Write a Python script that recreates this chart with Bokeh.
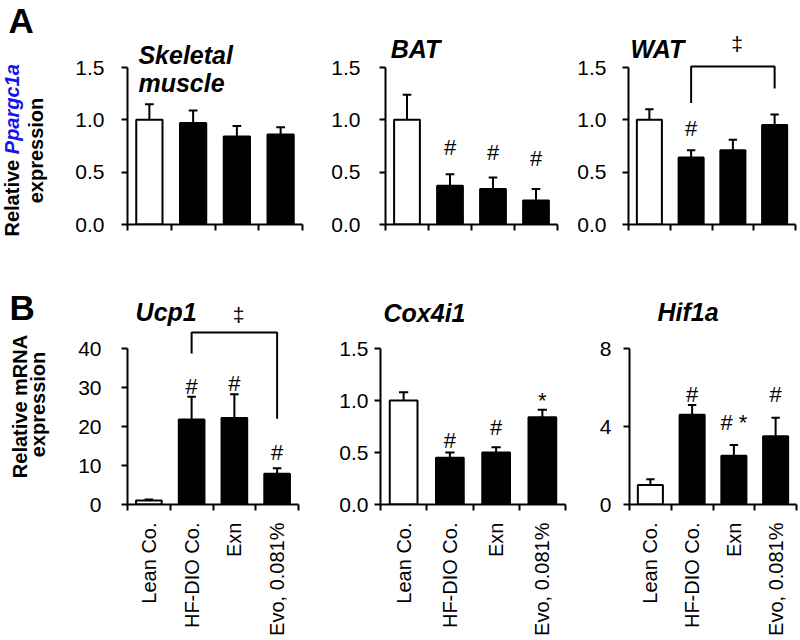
import math
from bokeh.plotting import figure
from bokeh.layouts import row, column
from bokeh.models import Range1d, FixedTicker, PrintfTickFormatter, ColumnDataSource
from bokeh.core.properties import value
from bokeh.embed import file_html
from bokeh.resources import INLINE

# ---------------- data ----------------
groups = ["Lean Co.", "HF-DIO Co.", "Exn", "Evo, 0.081%"]
bar_fill = ["white", "black", "black", "black"]

skeletal_mean = [1.00, 0.97, 0.84, 0.86]
skeletal_err = [0.15, 0.12, 0.10, 0.07]
bat_mean = [1.00, 0.37, 0.34, 0.23]
bat_err = [0.24, 0.11, 0.11, 0.11]
wat_mean = [1.00, 0.64, 0.71, 0.95]
wat_err = [0.10, 0.07, 0.10, 0.10]
ucp1_mean = [1.0, 21.8, 22.2, 7.9]
ucp1_err = [0.3, 5.8, 6.1, 1.4]
cox_mean = [1.00, 0.45, 0.50, 0.84]
cox_err = [0.08, 0.05, 0.05, 0.07]
hif_mean = [1.0, 4.6, 2.5, 3.5]
hif_err = [0.3, 0.5, 0.55, 0.95]

# significance marks: group index, symbol, y position
bat_marks_idx = [1, 2, 3]
bat_marks_txt = ["#", "#", "#"]
bat_marks_y = [0.74, 0.69, 0.63]
wat_marks_idx = [1]
wat_marks_txt = ["#"]
wat_marks_y = [0.92]
ucp1_marks_idx = [1, 2, 3]
ucp1_marks_txt = ["#", "#", "#"]
ucp1_marks_y = [30.3, 31.0, 13.4]
cox_marks_idx = [1, 2, 3]
cox_marks_txt = ["#", "#", "*"]
cox_marks_y = [0.615, 0.743, 1.0]
hif_marks_idx = [1, 2, 3]
hif_marks_txt = ["#", "# *", "#"]
hif_marks_y = [5.64, 4.22, 5.64]

# brackets: left group, right group, top, left leg end, right leg end, symbol x, symbol y
wat_bracket = (1, 3, 1.51, 1.16, 1.30, 2.6, 1.73)
ucp1_bracket = (1, 3, 44.1, 38.7, 22.0, 2.6, 48.7)

FONT = "Liberation Sans"
TICK_SIZE = "21px"
H = 640  # page height, for the label columns


def panel(frame_w, frame_h, borders, y_end, y_ticks, y_fmt, standoff,
          mean, err, show_x_labels, title_lines, marks=None, bracket=None):
    bl, br, bt, bb = borders
    p = figure(frame_width=frame_w, frame_height=frame_h,
               x_range=Range1d(0, len(groups)), y_range=Range1d(0, y_end),
               min_border_left=bl, min_border_right=br,
               min_border_top=bt, min_border_bottom=bb, title=None,
               output_backend="svg", toolbar_location=None)
    p.outline_line_color = None
    p.grid.visible = False
    centers = [i + 0.5 for i in range(len(groups))]
    bounds = list(range(len(groups) + 1))
    src = ColumnDataSource(dict(
        x=centers, top=mean,
        err_top=[m + e for m, e in zip(mean, err)],
        x0=[c - 0.1 for c in centers], x1=[c + 0.1 for c in centers],
        fill=bar_fill))
    p.segment(x0="x", y0="top", x1="x", y1="err_top", source=src,
              line_color="black", line_width=2)
    p.segment(x0="x0", y0="err_top", x1="x1", y1="err_top", source=src,
              line_color="black", line_width=2)
    p.vbar(x="x", top="top", bottom=0, width=0.6, source=src,
           fill_color="fill", line_color="black", line_width=2)

    xa = p.xaxis[0]
    xa.ticker = FixedTicker(ticks=centers, minor_ticks=bounds)
    xa.axis_line_width = 2
    xa.major_tick_line_color = None
    xa.major_tick_out = 0
    xa.major_tick_in = 0
    xa.minor_tick_out = 6
    xa.minor_tick_in = 0
    xa.minor_tick_line_width = 2
    xa.minor_tick_line_color = "black"
    xa.major_label_overrides = {c: (g if show_x_labels else "") for c, g in zip(centers, groups)}
    xa.major_label_orientation = math.pi / 2
    xa.major_label_standoff = 12
    xa.major_label_text_font = FONT
    xa.major_label_text_font_size = "20px"
    xa.major_label_text_color = "black"

    ya = p.yaxis[0]
    ya.ticker = FixedTicker(ticks=y_ticks)
    ya.bounds = (0, y_ticks[-1])
    ya.formatter = PrintfTickFormatter(format=y_fmt)
    ya.axis_line_width = 2
    ya.major_tick_line_width = 2
    ya.major_tick_out = 6
    ya.major_tick_in = 0
    ya.minor_tick_line_color = None
    ya.major_label_standoff = standoff
    ya.major_label_text_font = FONT
    ya.major_label_text_font_size = TICK_SIZE
    ya.major_label_text_color = "black"

    for (tx, ty, t) in title_lines:
        p.text(x=[tx], y=[ty], text=[t], text_font=value(FONT), text_font_size="25px",
               text_font_style="bold italic", text_color="black",
               text_align="left", text_baseline="middle")

    if marks is not None:
        idx, txt, ys = marks
        p.text(x=[centers[i] for i in idx], y=ys, text=txt, text_font=value(FONT),
               text_font_size="22px", text_color="black",
               text_align="center", text_baseline="middle")

    if bracket is not None:
        l, r, top, lb, rb, sx, sy = bracket
        p.line(x=[centers[l], centers[l], centers[r], centers[r]], y=[lb, top, top, rb],
               line_color="black", line_width=2)
        p.text(x=[sx], y=[sy], text=["\u2021"], text_font=value(FONT),
               text_font_size="21px", text_color="black",
               text_align="center", text_baseline="middle")
    return p


def label_fig(h, y_top):
    y0 = H - (y_top + h)
    p = figure(width=70, height=h, x_range=Range1d(0, 70),
               y_range=Range1d(y0, H - y_top),
               x_axis_type=None, y_axis_type=None, min_border=0, title=None,
               output_backend="svg", toolbar_location=None)
    p.outline_line_color = None
    p.grid.visible = False
    # keep this text column's frame the full figure (do not align it to the bar panels)
    if "frame_align" in p.properties():
        p.frame_align = False
    return p


def add_text(p, x, y_page, text, size, style, color="black", angle=0.0, align="left"):
    p.text(x=[x], y=[H - y_page], text=[text], angle=angle, text_font=value(FONT),
           text_font_size=size, text_font_style=style, text_color=color,
           text_align=align, text_baseline="middle")


# ---------------- row A ----------------
ROW_A_H = 286
labA = label_fig(ROW_A_H, 0)
add_text(labA, 8, 19.5, "A", "35px", "bold")
add_text(labA, 11, 236, "Relative ", "20px", "bold", angle=math.pi / 2)
add_text(labA, 11, 153.7, "Ppargc1a", "20px", "bold italic", color="#1414EE", angle=math.pi / 2)
add_text(labA, 35, 150, "expression", "20px", "bold", angle=math.pi / 2, align="center")

A_TICKS = [0, 0.5, 1.0, 1.5]
A_END = 1.5 * 204 / 157

sk = panel(175, 204, (57, 16, 20, 62), A_END, A_TICKS, "%.1f", 17,
           skeletal_mean, skeletal_err, False,
           [(0.25, 1.624, "Skeletal"), (0.25, 1.35, "muscle")])
bat = panel(172, 204, (67, 11, 20, 62), A_END, A_TICKS, "%.1f", 19,
            bat_mean, bat_err, False, [(0.12, 1.679, "BAT")],
            marks=(bat_marks_idx, bat_marks_txt, bat_marks_y))
wat = panel(167, 204, (60, 5, 20, 62), A_END, A_TICKS, "%.1f", 16,
            wat_mean, wat_err, False, [(0.05, 1.679, "WAT")],
            marks=(wat_marks_idx, wat_marks_txt, wat_marks_y), bracket=wat_bracket)

# ---------------- row B ----------------
ROW_B_H = 354
labB = label_fig(ROW_B_H, 286)
add_text(labB, 9, 307, "B", "35px", "bold")
add_text(labB, 19, 406, "Relative mRNA", "20px", "bold", angle=math.pi / 2, align="center")
add_text(labB, 37, 404, "expression", "20px", "bold", angle=math.pi / 2, align="center")

ucp = panel(171, 202, (57, 20, 16, 136), 40 * 202 / 156, [0, 10, 20, 30, 40], "%d", 20,
            ucp1_mean, ucp1_err, True, [(0.19, 49.3, "Ucp1")],
            marks=(ucp1_marks_idx, ucp1_marks_txt, ucp1_marks_y), bracket=ucp1_bracket)
cox = panel(185, 202, (62, 15, 16, 136), 1.5 * 202 / 156, A_TICKS, "%.1f", 6,
            cox_mean, cox_err, True, [(0.065, 1.839, "Cox4i1")],
            marks=(cox_marks_idx, cox_marks_txt, cox_marks_y))
hif = panel(167, 202, (49, 4, 16, 136), 8 * 202 / 156, [0, 4, 8], "%d", 12,
            hif_mean, hif_err, True, [(0.67, 9.85, "Hif1a")],
            marks=(hif_marks_idx, hif_marks_txt, hif_marks_y))

layout = column(row(labA, sk, bat, wat, spacing=0), row(labB, ucp, cox, hif, spacing=0), spacing=0)

open("out.html", "w").write(file_html(layout, INLINE))
